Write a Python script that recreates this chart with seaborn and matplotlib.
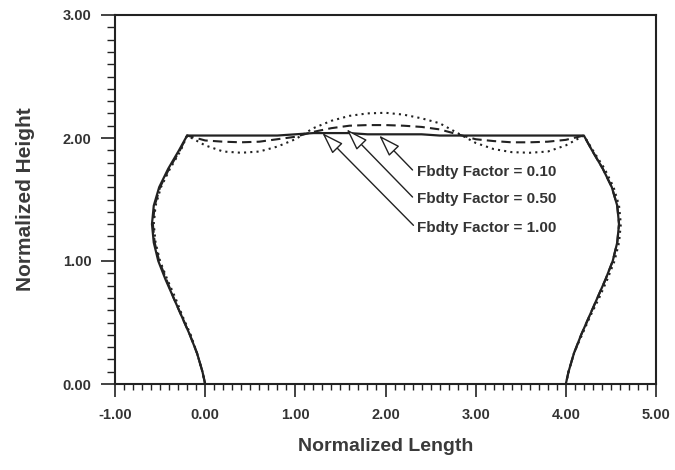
import numpy as np
import pandas as pd
import seaborn as sns
import matplotlib
matplotlib.use("Agg")
import matplotlib.pyplot as plt
from matplotlib.ticker import MultipleLocator, FormatStrFormatter

# ---------------- data ----------------
side_y = [0.00, 0.10, 0.25, 0.40, 0.55, 0.70, 0.85, 1.00, 1.15, 1.30, 1.45, 1.60, 1.75, 1.90, 2.02]
side_y_down = side_y[::-1]

top_x = [-0.20, 0.00, 0.20, 0.40, 0.60, 0.80, 1.00, 1.20, 1.40, 1.60, 1.80, 2.00,
         2.20, 2.40, 2.60, 2.80, 3.00, 3.20, 3.40, 3.60, 3.80, 4.00, 4.20]

# Fbdty Factor = 0.10 (solid)
f010_left_x = [0.00, -0.03, -0.09, -0.17, -0.26, -0.35, -0.44, -0.52, -0.57, -0.59, -0.57, -0.51, -0.41, -0.29, -0.20]
f010_top_y = [2.02, 2.02, 2.02, 2.02, 2.02, 2.02, 2.03, 2.04, 2.04, 2.04, 2.03, 2.03,
              2.03, 2.03, 2.02, 2.02, 2.02, 2.02, 2.02, 2.02, 2.02, 2.02, 2.02]
f010_right_x = [4.20, 4.29, 4.41, 4.51, 4.57, 4.59, 4.57, 4.52, 4.44, 4.35, 4.26, 4.17, 4.09, 4.03, 4.00]

# Fbdty Factor = 0.50 (dashed)
f050_left_x = [0.00, -0.03, -0.09, -0.17, -0.26, -0.35, -0.43, -0.51, -0.56, -0.58, -0.56, -0.50, -0.40, -0.28, -0.20]
f050_top_y = [2.02, 1.98, 1.97, 1.965, 1.97, 1.99, 2.01, 2.05, 2.08, 2.10, 2.105, 2.105,
              2.10, 2.09, 2.07, 2.03, 1.99, 1.975, 1.965, 1.965, 1.97, 1.985, 2.02]
f050_right_x = [4.20, 4.29, 4.41, 4.51, 4.57, 4.59, 4.57, 4.52, 4.44, 4.35, 4.26, 4.17, 4.09, 4.03, 4.00]

# Fbdty Factor = 1.00 (dotted)
f100_left_x = [0.00, -0.03, -0.09, -0.16, -0.25, -0.33, -0.42, -0.50, -0.55, -0.57, -0.55, -0.49, -0.39, -0.27, -0.20]
f100_top_y = [2.02, 1.94, 1.89, 1.88, 1.89, 1.93, 1.99, 2.08, 2.14, 2.18, 2.20, 2.205,
              2.19, 2.16, 2.12, 2.04, 1.96, 1.91, 1.885, 1.88, 1.89, 1.94, 2.02]
f100_right_x = [4.20, 4.30, 4.43, 4.53, 4.59, 4.61, 4.59, 4.54, 4.46, 4.37, 4.27, 4.18, 4.09, 4.03, 4.00]

labels = ["Fbdty Factor = 0.10", "Fbdty Factor = 0.50", "Fbdty Factor = 1.00"]
arrow_tips = [(1.93, 2.02), (1.57, 2.07), (1.30, 2.04)]
arrow_tails = [(2.30, 1.74), (2.30, 1.52), (2.31, 1.29)]
label_y = [1.72, 1.50, 1.27]
label_x = 2.35

x_ticks = [-1, 0, 1, 2, 3, 4, 5]
y_ticks = [0, 1, 2, 3]

# ---------------- build tables ----------------
def profile(name, left_x, top_y, right_x):
    xs = list(left_x) + list(top_x[1:-1]) + list(right_x)
    ys = list(side_y) + list(top_y[1:-1]) + list(side_y_down)
    return pd.DataFrame({"x": xs, "y": ys, "order": range(len(xs)), "series": name})

df = pd.concat([
    profile("0.10", f010_left_x, f010_top_y, f010_right_x),
    profile("0.50", f050_left_x, f050_top_y, f050_right_x),
    profile("1.00", f100_left_x, f100_top_y, f100_right_x),
], ignore_index=True)

# ---------------- plot ----------------
sns.set_theme(style="white")
plt.rcParams["font.family"] = ["Liberation Sans", "DejaVu Sans"]
plt.rcParams["font.weight"] = "bold"

fig = plt.figure(figsize=(6.75, 4.7), dpi=100)
ax = fig.add_axes([115 / 675, 1 - 384 / 470, 541 / 675, 369 / 470])

ink = "#222222"
styles = {"0.10": dict(ls="-", lw=1.6),
          "1.00": dict(ls=(0, (1, 2)), lw=1.5),
          "0.50": dict(ls=(0, (4.5, 2.5)), lw=1.5)}
for name in ["1.00", "0.50", "0.10"]:
    sub = df[df.series == name]
    sns.lineplot(data=sub, x="x", y="y", sort=False, estimator=None, ax=ax,
                 color=ink, linestyle=styles[name]["ls"], lw=styles[name]["lw"],
                 legend=False)

ax.set_xlim(x_ticks[0], x_ticks[-1])
ax.set_ylim(y_ticks[0], y_ticks[-1])
ax.xaxis.set_major_locator(MultipleLocator(1))
ax.xaxis.set_minor_locator(MultipleLocator(0.1))
ax.yaxis.set_major_locator(MultipleLocator(1))
ax.yaxis.set_minor_locator(MultipleLocator(0.1))
ax.xaxis.set_major_formatter(FormatStrFormatter("%.2f"))
ax.yaxis.set_major_formatter(FormatStrFormatter("%.2f"))

ax.tick_params(axis="x", which="major", direction="out", length=9, width=1.2,
               color=ink, labelsize=10.5, labelcolor="#333333", pad=8, bottom=True, top=False)
ax.tick_params(axis="x", which="minor", direction="out", length=4, width=1.0,
               color=ink, bottom=True, top=False)
ax.tick_params(axis="y", which="major", direction="out", length=10, width=1.2,
               color=ink, labelsize=10.5, labelcolor="#333333", pad=7, left=True, right=False)
ax.tick_params(axis="y", which="minor", direction="out", length=6, width=1.0,
               color=ink, left=True, right=False)
for lab in ax.get_xticklabels() + ax.get_yticklabels():
    lab.set_fontweight("bold")

for s in ax.spines.values():
    s.set_visible(True)
    s.set_color(ink)
    s.set_linewidth(1.5)

ax.set_xlabel("Normalized Length", fontsize=14, fontweight="bold", color="#3a3a3a", labelpad=12)
ax.set_ylabel("Normalized Height", fontsize=15, fontweight="bold", color="#3a3a3a", labelpad=20)

for lab, tip, tail, ly in zip(labels, arrow_tips, arrow_tails, label_y):
    ax.annotate("", xy=tip, xytext=tail,
                arrowprops=dict(arrowstyle="-|>,head_length=0.9,head_width=0.3",
                                fc="white", ec=ink, lw=1.0, mutation_scale=15,
                                shrinkA=0, shrinkB=0))
    ax.text(label_x, ly, lab, fontsize=11, fontweight="bold", color="#333333",
            ha="left", va="center")

fig.savefig("out.png", dpi=100)
